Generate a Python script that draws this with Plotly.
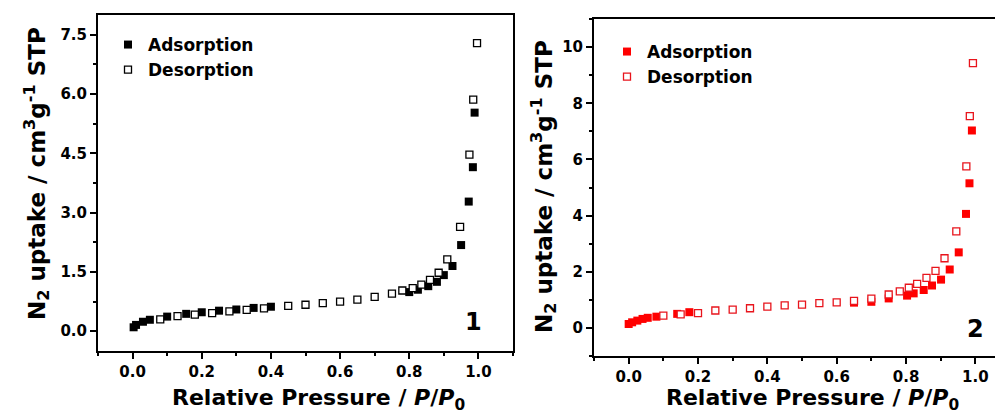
import plotly.graph_objects as go

# ---- data ----
# panel 1 (black)
ads1_x = [0.003, 0.01, 0.03, 0.05, 0.10, 0.155, 0.20, 0.25, 0.30, 0.35, 0.40,
          0.80, 0.825, 0.855, 0.88, 0.90, 0.925, 0.95, 0.972, 0.984, 0.989]
ads1_y = [0.10, 0.16, 0.24, 0.29, 0.37, 0.44, 0.48, 0.52, 0.55, 0.59, 0.62,
          0.99, 1.05, 1.14, 1.25, 1.42, 1.65, 2.18, 3.28, 4.15, 5.53]
des1_x = [0.08, 0.13, 0.18, 0.23, 0.28, 0.33, 0.38, 0.45, 0.50, 0.55, 0.60, 0.65,
          0.70, 0.75, 0.78, 0.81, 0.835, 0.86, 0.885, 0.91, 0.947, 0.974, 0.985, 0.996]
des1_y = [0.30, 0.38, 0.42, 0.46, 0.50, 0.54, 0.58, 0.64, 0.67, 0.71, 0.75, 0.80,
          0.87, 0.95, 1.03, 1.09, 1.18, 1.30, 1.48, 1.82, 2.64, 4.47, 5.86, 7.29]

# panel 2 (red)
ads2_x = [0.0, 0.01, 0.025, 0.04, 0.055, 0.08, 0.14, 0.175, 0.65, 0.70, 0.75,
          0.803, 0.822, 0.851, 0.875, 0.901, 0.926, 0.952, 0.973, 0.983, 0.99]
ads2_y = [0.14, 0.20, 0.26, 0.32, 0.36, 0.40, 0.50, 0.56, 0.90, 0.93, 1.05,
          1.15, 1.23, 1.35, 1.51, 1.72, 2.08, 2.69, 4.06, 5.15, 7.03]
des2_x = [0.10, 0.15, 0.20, 0.25, 0.30, 0.35, 0.40, 0.45, 0.50, 0.55, 0.60, 0.65,
          0.70, 0.75, 0.782, 0.808, 0.832, 0.859, 0.885, 0.911, 0.945, 0.974, 0.984, 0.993]
des2_y = [0.44, 0.48, 0.53, 0.62, 0.65, 0.70, 0.76, 0.80, 0.83, 0.88, 0.91, 0.96,
          1.04, 1.19, 1.30, 1.43, 1.57, 1.78, 2.03, 2.48, 3.44, 5.75, 7.54, 9.43]

# the page body has an 8px margin, so the figure is made 8px smaller
# and every position below is given in window pixels
OFF = 8
W, H = 1003 - OFF, 415 - OFF
FONT = "DejaVu Sans"


def px(x):
    return (x - OFF) / W


def py(y):
    return 1 - (y - OFF) / H


fig = go.Figure()

# panel 1
fig.add_trace(go.Scatter(x=ads1_x, y=ads1_y, mode="markers", name="Adsorption",
                         marker=dict(symbol="square", size=8, color="black"),
                         xaxis="x", yaxis="y", legend="legend"))
fig.add_trace(go.Scatter(x=des1_x, y=des1_y, mode="markers", name="Desorption",
                         marker=dict(symbol="square", size=7, color="white",
                                     line=dict(color="black", width=1.3)),
                         xaxis="x", yaxis="y", legend="legend"))
# panel 2
fig.add_trace(go.Scatter(x=ads2_x, y=ads2_y, mode="markers", name="Adsorption",
                         marker=dict(symbol="square", size=8, color="#ff0000"),
                         xaxis="x2", yaxis="y2", legend="legend2"))
fig.add_trace(go.Scatter(x=des2_x, y=des2_y, mode="markers", name="Desorption",
                         marker=dict(symbol="square", size=7, color="white",
                                     line=dict(color="#e8141c", width=1.3)),
                         xaxis="x2", yaxis="y2", legend="legend2"))

tickfont = dict(family=FONT, size=15, color="black", weight="bold")
common = dict(showline=True, linecolor="black", linewidth=2, ticks="outside",
              ticklen=6, tickwidth=2, tickcolor="black", showgrid=False,
              zeroline=False, tickfont=tickfont)

fig.update_layout(
    width=W, height=H,
    margin=dict(l=0, r=0, t=0, b=0),
    paper_bgcolor="white", plot_bgcolor="white",
    xaxis=dict(domain=[px(98), px(513)], range=[-0.1, 1.1], dtick=0.2, tick0=0,
               tickformat=".1f", mirror=True, anchor="y",
               minor=dict(ticks="outside", ticklen=3, tickwidth=2, dtick=0.1, tick0=0),
               **common),
    yaxis=dict(domain=[py(351), py(15)], range=[-0.5, 8.0], dtick=1.5, tick0=0,
               tickformat=".1f", mirror=True, anchor="x",
               minor=dict(ticks="outside", ticklen=3, tickwidth=2, dtick=0.75, tick0=0),
               **common),
    xaxis2=dict(domain=[px(594), 1.0], range=[-0.1, 1.0797], dtick=0.2, tick0=0,
                tickformat=".1f", mirror=True, anchor="y2",
                minor=dict(ticks="outside", ticklen=3, tickwidth=2, dtick=0.1, tick0=0),
                **common),
    yaxis2=dict(domain=[py(356), py(19)], range=[-1, 11], dtick=2, tick0=0,
                anchor="x2",
                minor=dict(ticks="outside", ticklen=3, tickwidth=2, dtick=1, tick0=0),
                **common),
    legend=dict(x=px(108), y=py(27), xanchor="left", yanchor="top",
                bgcolor="rgba(0,0,0,0)", borderwidth=0,
                font=dict(family=FONT, size=17, color="black", weight="bold")),
    legend2=dict(x=px(607), y=py(34), xanchor="left", yanchor="top",
                 bgcolor="rgba(0,0,0,0)", borderwidth=0,
                 font=dict(family=FONT, size=17, color="black", weight="bold")),
)

title_font = dict(family=FONT, size=22, color="black", weight="bold")
ytitle = "N<sub>2</sub> uptake / cm<sup>3</sup>g<sup>-1</sup> STP"
xtitle = "Relative Pressure / <i>P</i>/<i>P</i><sub>0</sub>"

annotations = [
    dict(x=px(37), y=py(174), text=ytitle, textangle=-90),
    dict(x=px(543), y=py(187), text=ytitle, textangle=-90),
    dict(x=px(318), y=py(399), text=xtitle),
    dict(x=px(812), y=py(399), text=xtitle),
    # panel numbers
    dict(x=px(473), y=py(322), text="1"),
    dict(x=px(975), y=py(329), text="2"),
]
for i, a in enumerate(annotations):
    if i < 2:
        f = dict(title_font, size=23)
    elif i < 4:
        f = title_font
    else:
        f = dict(title_font, size=24)
    fig.add_annotation(xref="paper", yref="paper", showarrow=False,
                       xanchor="center", yanchor="middle", font=f, **a)

fig.write_html("out.html")
